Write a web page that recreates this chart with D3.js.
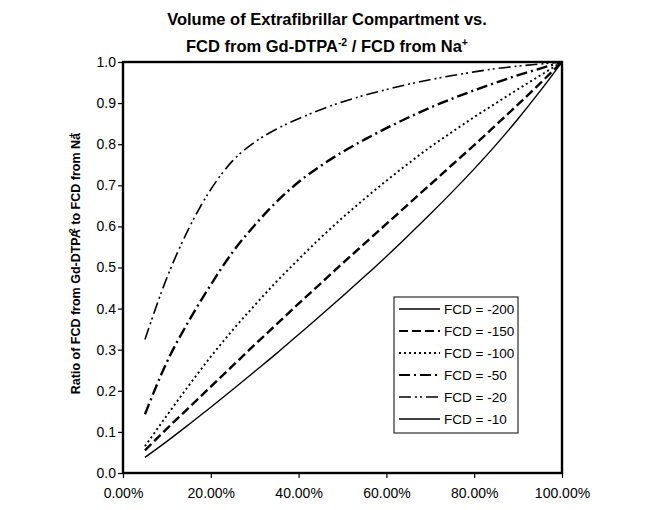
<!DOCTYPE html>
<html>
<head>
<meta charset="utf-8">
<script src="https://d3js.org/d3.v7.min.js"></script>
<style>
  body { margin: 0; background: #fff; }
  text { font-family: "Liberation Sans", Arial, sans-serif; fill: #000; }
</style>
</head>
<body>
<script>
// extrafibrillar volume fraction (%)
var volume = [5, 10, 15, 20, 25, 30, 35, 40, 45, 50, 55, 60, 65, 70, 75, 80, 85, 90, 95, 100];

// ratio of FCD from Gd-DTPA-2 to FCD from Na+, one list per FCD
var fcd200 = [0.038, 0.077, 0.118, 0.16, 0.203, 0.247, 0.291, 0.337, 0.383, 0.43, 0.478, 0.527, 0.578, 0.63, 0.684, 0.74, 0.799, 0.862, 0.929, 1.0];
var fcd150 = [0.055, 0.108, 0.159, 0.21, 0.261, 0.312, 0.362, 0.412, 0.461, 0.51, 0.558, 0.606, 0.654, 0.702, 0.75, 0.798, 0.847, 0.897, 0.948, 1.0];
var fcd100 = [0.065, 0.14, 0.213, 0.283, 0.348, 0.408, 0.466, 0.52, 0.572, 0.621, 0.667, 0.711, 0.753, 0.793, 0.83, 0.866, 0.9, 0.934, 0.967, 1.0];
var fcd50  = [0.143, 0.27, 0.37, 0.458, 0.538, 0.603, 0.66, 0.708, 0.747, 0.781, 0.811, 0.839, 0.865, 0.889, 0.911, 0.931, 0.95, 0.968, 0.984, 1.0];
var fcd20  = [0.325, 0.475, 0.595, 0.69, 0.76, 0.805, 0.837, 0.862, 0.884, 0.903, 0.919, 0.933, 0.946, 0.957, 0.967, 0.976, 0.984, 0.99, 0.995, 1.0];
var fcd10  = []; // listed in the legend, no curve visible in the chart

var seriesNames = ["FCD = -200", "FCD = -150", "FCD = -100", "FCD = -50", "FCD = -20", "FCD = -10"];
var seriesValues = [fcd200, fcd150, fcd100, fcd50, fcd20, fcd10];

var xTicks = [0, 20, 40, 60, 80, 100];
var yTicks = [0, 0.1, 0.2, 0.3, 0.4, 0.5, 0.6, 0.7, 0.8, 0.9, 1.0];

// line styles per series
var dashes = ["none", "9,4", "2,3", "11,4,2,4", "12,4,2,3,2,4", "none"];
var widths = [1.4, 2.4, 1.9, 2.4, 1.6, 1.4];

var W = 654, H = 510;
var margin = {top: 62, right: 92, bottom: 37, left: 123};

var svg = d3.select('body').append('svg')
  .attr('width', W)
  .attr('height', H);

var x = d3.scaleLinear().domain([0, 100]).range([margin.left, W - margin.right]);
var y = d3.scaleLinear().domain([0, 1]).range([H - margin.bottom, margin.top]);

// title
var title = svg.append('text')
  .attr('x', 327)
  .attr('text-anchor', 'middle')
  .style('font-weight', 'bold')
  .style('font-size', '16.5px');
title.append('tspan').attr('x', 327).attr('y', 25).text('Volume of Extrafibrillar Compartment vs.');
var t2 = title.append('tspan').attr('x', 327).attr('y', 52);
t2.append('tspan').text('FCD from Gd-DTPA');
t2.append('tspan').attr('dy', -6).style('font-size', '10.5px').text('-2');
t2.append('tspan').attr('dy', 6).text(' / FCD from Na');
t2.append('tspan').attr('dy', -6).style('font-size', '10.5px').text('+');

// axes
var xAxis = d3.axisBottom(x)
  .tickValues(xTicks)
  .tickSize(5)
  .tickFormat(function(d) { return d.toFixed(2) + '%'; });
var yAxis = d3.axisLeft(y)
  .tickValues(yTicks)
  .tickSize(5)
  .tickFormat(d3.format('.1f'));

var gx = svg.append('g')
  .attr('transform', 'translate(0,' + (H - margin.bottom) + ')')
  .call(xAxis);
var gy = svg.append('g')
  .attr('transform', 'translate(' + margin.left + ',0)')
  .call(yAxis);

[gx, gy].forEach(function(g) {
  g.select('.domain').remove();
  g.selectAll('line').attr('stroke', '#000').attr('stroke-width', 1.2);
  g.selectAll('text')
    .style('font-size', '14px')
    .style('font-family', '"Liberation Sans", Arial, sans-serif')
    .attr('fill', '#000');
});
gx.selectAll('text').attr('dy', '1.2em');
gy.selectAll('text').attr('x', -7);

// y label
var yl = svg.append('text')
  .attr('transform', 'translate(80,' + ((margin.top + H - margin.bottom) / 2 - 4) + ') rotate(-90)')
  .attr('text-anchor', 'middle')
  .style('font-weight', 'bold')
  .style('font-size', '12.5px');
yl.append('tspan').text('Ratio of FCD from Gd-DTPA');
yl.append('tspan').attr('dy', -5).attr('dx', -7).style('font-size', '9px').text('-2');
yl.append('tspan').attr('dy', 5).text(' to FCD from Na');
yl.append('tspan').attr('dy', -5).attr('dx', -5).style('font-size', '9px').text('+');

// curves
var line = d3.line()
  .curve(d3.curveMonotoneX)
  .x(function(d) { return x(d.v); })
  .y(function(d) { return y(d.r); });

var series = seriesNames.map(function(name, i) {
  return {
    name: name,
    dash: dashes[i],
    width: widths[i],
    points: seriesValues[i].map(function(r, j) { return {v: volume[j], r: r}; })
  };
});

svg.selectAll('path.curve')
  .data(series.filter(function(s) { return s.points.length; }))
  .enter()
  .append('path')
  .attr('class', 'curve')
  .attr('fill', 'none')
  .attr('stroke', '#000')
  .attr('stroke-width', function(d) { return d.width; })
  .attr('stroke-dasharray', function(d) { return d.dash; })
  .attr('d', function(d) { return line(d.points); });

// plot frame
svg.append('rect')
  .attr('x', x(0))
  .attr('y', y(1))
  .attr('width', x(100) - x(0))
  .attr('height', y(0) - y(1))
  .attr('fill', 'none')
  .attr('stroke', '#000')
  .attr('stroke-width', 2.4);

// legend
var legend = svg.append('g').attr('transform', 'translate(394,297)');
legend.append('rect')
  .attr('width', 124)
  .attr('height', 136)
  .attr('fill', '#fff')
  .attr('stroke', '#000')
  .attr('stroke-width', 1);

var item = legend.selectAll('g.item')
  .data(series)
  .enter()
  .append('g')
  .attr('class', 'item')
  .attr('transform', function(d, i) { return 'translate(0,' + (12 + i * 22) + ')'; });
item.append('line')
  .attr('x1', 5).attr('x2', 46)
  .attr('stroke', '#000')
  .attr('stroke-width', function(d) { return Math.min(d.width, 2); })
  .attr('stroke-dasharray', function(d) { return d.dash; });
item.append('text')
  .attr('x', 50)
  .attr('dy', '0.35em')
  .style('font-size', '13.5px')
  .text(function(d) { return d.name; });
</script>
</body>
</html>
